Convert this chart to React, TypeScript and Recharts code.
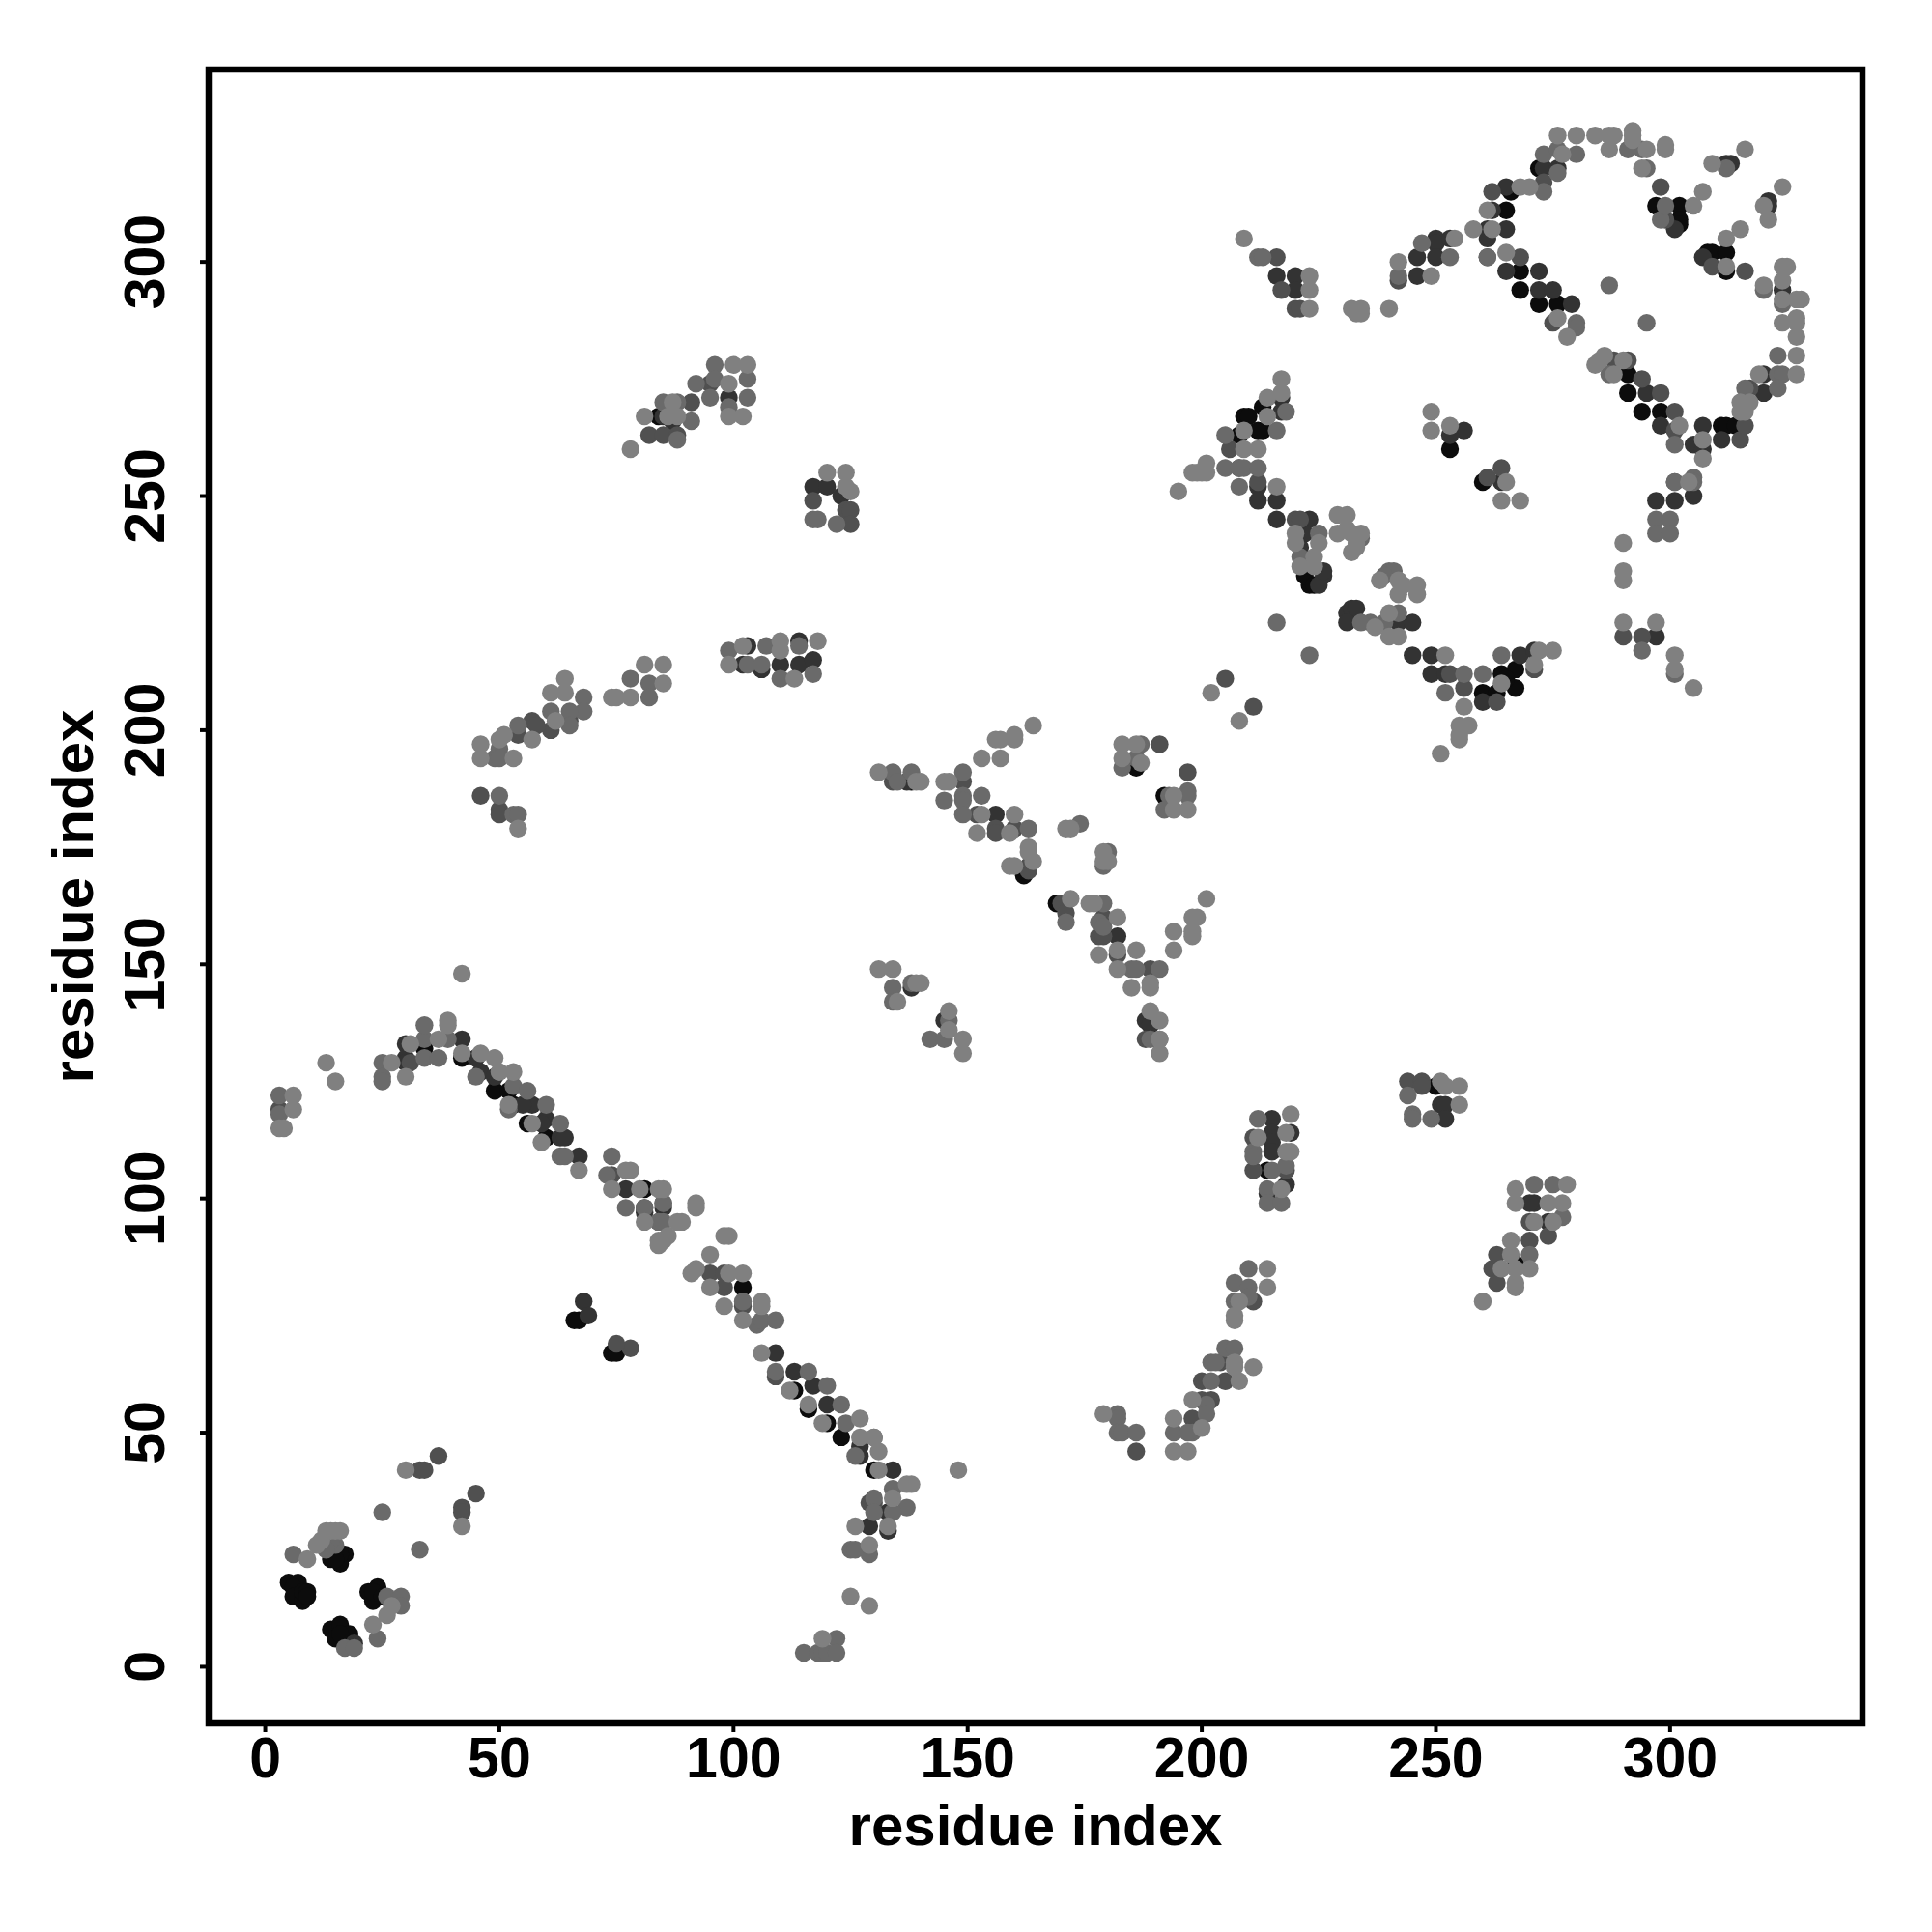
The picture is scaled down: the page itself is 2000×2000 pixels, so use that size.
import { ReferenceArea, Scatter, ScatterChart, XAxis, YAxis } from 'recharts';

type Pair = [number, number];

const tickValues = [0, 50, 100, 150, 200, 250, 300];
const axisDomain: [number, number] = [-12.08, 341.08];

// contact pairs, grouped by grey level
const blackContacts: Pair[] = [
  [17, 24], [16, 22], [14, 23], [16, 24], [15, 23], [5, 18], [7, 18], [6, 17], [6, 15], [8, 14], [8, 16], [9, 16], [9, 15],
  [22, 16], [24, 17], [23, 14], [23, 16], [25, 15], [14, 8], [16, 9], [15, 6], [18, 7], [16, 7],
  [34, 132], [42, 130], [49, 123], [53, 120], [52, 123], [56, 116], [60, 113], [81, 102], [102, 81], [113, 59], [120, 52],
  [123, 49], [130, 42], [116, 55], [67, 74], [66, 74], [74, 67], [75, 67], [84, 267], [214, 106], [250, 124], [267, 86],
  [192, 186], [186, 192], [138, 189], [162, 169], [169, 163], [209, 267], [210, 267], [213, 269], [213, 264], [212, 264],
  [208, 263], [223, 231], [222, 233], [253, 260], [260, 253], [260, 208], [263, 208], [264, 212], [267, 213], [267, 209],
  [265, 211], [265, 311], [266, 315], [272, 320], [268, 298], [268, 294], [272, 291], [276, 291], [297, 312], [302, 312],
  [302, 309], [302, 308], [308, 302], [309, 302], [312, 302], [312, 298], [291, 276], [291, 272], [294, 268], [298, 268],
  [311, 265], [312, 265], [314, 265], [224, 231],
];

const darkContacts: Pair[] = [
  [30, 133], [30, 130], [30, 129], [42, 134], [45, 130], [46, 127], [49, 126], [57, 120], [55, 120], [60, 117], [59, 116],
  [63, 113], [64, 113], [67, 109], [77, 102], [81, 97], [85, 98], [109, 67], [113, 63], [117, 60], [120, 56], [127, 47],
  [127, 45], [134, 42], [133, 33], [133, 29], [129, 30], [19, 5], [68, 78], [69, 75], [215, 117], [215, 114], [219, 114],
  [215, 112], [215, 110], [218, 103], [214, 101], [251, 120], [252, 120], [252, 117], [271, 99], [270, 99], [274, 95],
  [156, 182], [182, 156], [137, 189], [188, 138], [189, 137], [145, 138], [138, 145], [99, 271], [85, 267], [87, 266],
  [117, 252], [120, 252], [123, 250], [103, 218], [102, 214], [106, 213], [110, 214], [114, 219], [114, 214], [117, 215],
  [212, 252], [212, 249], [216, 249], [216, 245], [223, 245], [222, 242], [221, 239], [226, 233], [225, 231], [226, 234],
  [217, 268], [217, 271], [231, 225], [232, 226], [233, 226], [231, 223], [242, 223], [245, 223], [245, 216], [249, 216],
  [249, 212], [252, 212], [260, 206], [268, 216], [271, 217], [256, 264], [253, 263], [264, 253], [216, 297], [220, 297],
  [220, 294], [246, 301], [246, 297], [250, 305], [250, 304], [250, 301], [253, 305], [261, 307], [261, 305], [265, 307],
  [262, 311], [265, 316], [273, 320], [276, 320], [265, 298], [272, 298], [272, 294], [275, 294], [279, 291], [297, 249],
  [301, 249], [305, 250], [301, 307], [307, 301], [312, 321], [313, 321], [321, 313], [321, 312], [324, 294], [320, 276],
  [320, 272], [295, 272], [298, 265], [305, 261], [307, 265], [307, 260], [311, 262], [297, 220], [208, 256], [81, 98],
];

const darkMidContacts: Pair[] = [
  [37, 45], [33, 42], [34, 42], [45, 37], [42, 34], [42, 33], [3, 119], [31, 129], [74, 105], [95, 84], [98, 84], [98, 81],
  [102, 77], [85, 99], [84, 95], [109, 62], [129, 35], [130, 35], [78, 68], [75, 69], [82, 263], [85, 263], [88, 263],
  [91, 270], [95, 274], [117, 249], [124, 247], [125, 247], [125, 244], [211, 113], [211, 106], [218, 106], [244, 125],
  [247, 125], [247, 124], [263, 88], [262, 85], [263, 82], [270, 95], [270, 91], [274, 92], [211, 78], [204, 65], [200, 61],
  [205, 61], [200, 57], [202, 57], [198, 53], [186, 46], [134, 189], [149, 189], [152, 182], [156, 179], [156, 178], [160, 179],
  [163, 171], [163, 170], [170, 163], [171, 161], [179, 160], [178, 156], [179, 156], [182, 152], [189, 149], [188, 134],
  [191, 197], [197, 191], [46, 186], [50, 183], [50, 182], [61, 200], [65, 202], [57, 202], [58, 201], [54, 199],
  [206, 260], [212, 253], [220, 245], [221, 245], [216, 301], [217, 294], [220, 290], [221, 290], [242, 296], [261, 301],
  [268, 301], [273, 317], [262, 315], [275, 287], [261, 254], [264, 256], [263, 206], [256, 209], [253, 212], [271, 213],
  [298, 316], [299, 309], [309, 299], [316, 298], [317, 273], [288, 279], [291, 279], [294, 275], [298, 272], [301, 268],
  [301, 264], [315, 262], [301, 253], [294, 220], [290, 220], [316, 265], [205, 211], [211, 205],
];

const midContacts: Pair[] = [
  [25, 33], [33, 25], [6, 24], [15, 26], [14, 27], [13, 25], [26, 15], [29, 15], [29, 13], [17, 4], [19, 4], [24, 6],
  [3, 122], [25, 129], [25, 126], [25, 125], [34, 134], [34, 137], [34, 130], [37, 130], [39, 134], [45, 126], [53, 124],
  [56, 123], [52, 119], [60, 120], [63, 116], [63, 109], [64, 109], [3, 118], [74, 109], [73, 105], [77, 98], [81, 98],
  [85, 99], [84, 95], [85, 95], [102, 78], [105, 73], [106, 74], [109, 74], [109, 63], [116, 63], [120, 60], [123, 56],
  [124, 52], [126, 45], [130, 49], [134, 38], [137, 34], [134, 33], [130, 36], [130, 33], [129, 24], [125, 25], [126, 25],
  [115, 3], [118, 3], [119, 3], [120, 3], [122, 6], [122, 3], [212, 117], [211, 110], [211, 109], [215, 106], [218, 107],
  [214, 102], [214, 99], [217, 99], [244, 122], [245, 118], [245, 117], [249, 117], [271, 103], [275, 103], [277, 96],
  [270, 88], [210, 85], [207, 82], [210, 81], [207, 78], [210, 79], [205, 68], [207, 68], [202, 65], [203, 65], [202, 61],
  [201, 56], [201, 54], [198, 50], [194, 50], [197, 50], [182, 54], [182, 53], [182, 50], [183, 50], [186, 50], [134, 191],
  [135, 189], [138, 191], [145, 185], [149, 191], [149, 186], [149, 185], [149, 182], [153, 186], [163, 179], [174, 180],
  [180, 174], [179, 171], [187, 197], [183, 192], [186, 194], [193, 186], [197, 187], [197, 186], [192, 183], [171, 159],
  [179, 163], [178, 159], [179, 158], [185, 149], [186, 149], [191, 149], [189, 134], [134, 145], [138, 146], [134, 142],
  [146, 138], [142, 134], [145, 134], [96, 278], [96, 275], [92, 274], [95, 271], [91, 266], [85, 270], [88, 270], [88, 262],
  [103, 275], [103, 271], [99, 269], [122, 244], [117, 245], [118, 245], [99, 217], [103, 214], [107, 218], [106, 214],
  [114, 218], [110, 211], [117, 212], [78, 211], [82, 210], [82, 207], [68, 207], [68, 204], [61, 204], [65, 204], [65, 201],
  [54, 201], [50, 196], [49, 194], [50, 194], [50, 186], [53, 182], [54, 182], [205, 263], [205, 256], [208, 256], [209, 256],
  [212, 256], [208, 252], [216, 264], [218, 268], [225, 242], [221, 237], [234, 241], [240, 234], [241, 234], [239, 233],
  [242, 225], [236, 223], [234, 223], [239, 223], [256, 212], [260, 212], [252, 208], [264, 216], [212, 301], [213, 301],
  [242, 297], [247, 304], [253, 301], [273, 315], [273, 323], [276, 324], [280, 323], [261, 301], [280, 287], [280, 286],
  [276, 319], [287, 295], [295, 287], [291, 324], [294, 324], [295, 320], [312, 320], [298, 309], [299, 312], [323, 280],
  [323, 276], [324, 276], [323, 273], [316, 273], [320, 294], [324, 291], [287, 276], [301, 261], [301, 253], [305, 254],
  [294, 217], [301, 212], [297, 245], [300, 245], [297, 242], [300, 242], [305, 253], [216, 223], [223, 216],
];

const lightContacts: Pair[] = [
  [30, 42], [42, 30], [9, 23], [11, 26], [12, 27], [13, 29], [14, 29], [15, 29], [16, 29], [27, 13], [26, 11], [23, 9],
  [42, 148], [13, 129], [15, 125], [6, 122], [6, 119], [3, 115], [4, 115], [27, 129], [30, 126], [31, 133], [37, 134],
  [39, 138], [39, 137], [42, 131], [46, 131], [49, 130], [50, 127], [53, 127], [52, 120], [57, 116], [59, 112], [67, 106],
  [74, 102], [77, 106], [78, 106], [80, 102], [84, 102], [85, 102], [81, 95], [88, 95], [89, 95], [84, 91], [85, 91], [84, 90],
  [86, 92], [92, 99], [92, 98], [98, 92], [99, 92], [91, 84], [92, 85], [95, 88], [95, 81], [99, 84], [102, 84], [98, 77],
  [106, 78], [106, 77], [102, 74], [106, 67], [112, 59], [116, 56], [119, 52], [127, 53], [127, 49], [130, 49], [131, 46],
  [131, 42], [138, 39], [137, 39], [134, 36], [133, 30], [126, 30], [129, 26], [125, 15], [129, 13], [119, 6], [148, 42],
  [191, 131], [191, 134], [219, 118], [212, 113], [218, 114], [219, 110], [218, 110], [217, 102], [251, 125], [252, 124],
  [255, 124], [255, 120], [267, 102], [267, 99], [274, 99], [277, 99], [278, 103], [271, 95], [275, 95], [266, 91], [266, 88],
  [270, 85], [267, 85], [264, 85], [267, 82], [267, 81], [260, 78], [214, 85], [214, 81], [208, 78], [207, 74], [207, 75],
  [207, 64], [211, 64], [207, 65], [208, 61], [198, 57], [200, 51], [194, 53], [194, 46], [197, 46], [179, 54], [164, 201],
  [160, 199], [160, 198], [156, 198], [157, 198], [153, 194], [157, 194], [131, 191], [139, 189], [140, 189], [145, 189],
  [146, 189], [153, 182], [160, 182], [152, 178], [159, 178], [163, 175], [163, 174], [159, 171], [160, 171], [164, 172],
  [171, 179], [172, 179], [179, 174], [179, 172], [180, 172], [183, 197], [186, 197], [183, 194], [187, 193], [194, 186],
  [194, 183], [197, 183], [172, 164], [176, 163], [177, 163], [182, 160], [178, 152], [182, 153], [186, 153], [182, 149],
  [185, 145], [189, 146], [189, 145], [194, 153], [194, 157], [198, 157], [198, 156], [198, 160], [199, 160], [201, 164],
  [189, 140], [191, 138], [191, 134], [131, 149], [134, 149], [139, 146], [140, 146], [135, 142], [146, 140], [146, 136],
  [149, 134], [149, 131], [78, 260], [81, 267], [86, 267], [87, 270], [88, 267], [100, 278], [103, 278], [99, 274], [99, 267],
  [102, 267], [120, 255], [124, 255], [124, 252], [125, 251], [102, 218], [99, 214], [110, 219], [110, 217], [113, 211],
  [118, 219], [81, 214], [85, 214], [85, 210], [78, 207], [74, 207], [75, 207], [64, 211], [61, 208], [64, 208], [62, 202],
  [57, 198], [51, 199], [50, 198], [46, 197], [46, 194], [53, 194], [54, 179], [217, 275], [217, 272], [214, 271], [214, 267],
  [209, 264], [209, 260], [212, 260], [201, 257], [201, 255], [198, 255], [199, 255], [200, 255], [216, 252], [195, 251],
  [220, 242], [220, 240], [225, 240], [224, 237], [221, 235], [224, 235], [229, 246], [231, 246], [229, 242], [231, 243],
  [232, 242], [234, 242], [233, 240], [232, 238], [233, 239], [238, 232], [242, 232], [243, 231], [246, 231], [246, 229],
  [242, 229], [237, 222], [240, 225], [240, 220], [242, 220], [252, 216], [256, 205], [264, 210], [272, 217], [275, 217],
  [271, 214], [257, 201], [255, 201], [255, 199], [255, 198], [251, 195], [249, 268], [249, 264], [253, 265], [265, 253],
  [264, 249], [268, 249], [202, 208], [208, 202], [209, 305], [223, 297], [223, 294], [223, 290], [232, 290], [234, 290],
  [234, 289], [233, 289], [240, 290], [242, 300], [249, 297], [254, 305], [258, 307], [262, 307], [261, 311], [268, 316],
  [270, 316], [277, 323], [276, 327], [280, 327], [284, 327], [287, 327], [288, 327], [287, 324], [265, 302], [276, 288],
  [278, 284], [292, 328], [292, 327], [292, 326], [295, 324], [299, 325], [299, 324], [294, 320], [316, 324], [309, 321],
  [307, 315], [305, 312], [324, 316], [320, 312], [321, 309], [315, 307], [312, 305], [312, 299], [324, 299], [325, 299],
  [320, 295], [324, 296], [324, 292], [327, 292], [328, 292], [324, 287], [327, 288], [327, 287], [327, 284], [327, 280],
  [327, 276], [319, 276], [315, 270], [317, 270], [315, 268], [316, 268], [284, 278], [285, 279], [286, 280], [288, 276],
  [290, 279], [302, 265], [307, 262], [307, 258], [304, 253], [290, 240], [290, 234], [290, 232], [290, 223], [297, 223],
  [301, 216], [305, 209], [301, 213],
];

const greyLayers = [
  { name: 'black', fill: '#0c0c0c', pairs: blackContacts },
  { name: 'dark', fill: '#333333', pairs: darkContacts },
  { name: 'darkMid', fill: '#505050', pairs: darkMidContacts },
  { name: 'mid', fill: '#6a6a6a', pairs: midContacts },
  { name: 'light', fill: '#808080', pairs: lightContacts },
];

const fontFamily = '"Liberation Sans", Arial, sans-serif';

function LeftTick({ x, y, payload }: any) {
  return (
    <text
      x={0}
      y={0}
      transform={`translate(${x - 35},${y}) rotate(-90)`}
      textAnchor="middle"
      fontFamily={fontFamily}
      fontWeight="bold"
      fontSize={59}
      fill="#000"
    >
      {payload.value}
    </text>
  );
}

const ContactDot = ({ cx, cy, fill }: any) => <circle cx={cx} cy={cy} r={9.2} fill={fill} />;

export default function App() {
  return (
    <div style={{ position: 'absolute', left: 0, top: 0, width: 2000, height: 2000, background: '#fff' }}>
      <ScatterChart width={2000} height={2000} margin={{ top: 72, right: 72, bottom: 0, left: 0 }}>
        <XAxis
          type="number"
          dataKey="x"
          domain={axisDomain}
          ticks={tickValues}
          interval={0}
          allowDataOverflow
          axisLine={false}
          height={216}
          tickSize={9}
          tickLine={{ stroke: '#000', strokeWidth: 4 }}
          tickMargin={5}
          tick={{ fill: '#000', fontFamily, fontWeight: 'bold', fontSize: 59 }}
          label={{
            value: 'residue index',
            position: 'insideBottom',
            offset: 90,
            fill: '#000',
            fontFamily,
            fontWeight: 'bold',
            fontSize: 60,
          }}
        />
        <YAxis
          type="number"
          dataKey="y"
          domain={axisDomain}
          ticks={tickValues}
          interval={0}
          allowDataOverflow
          axisLine={false}
          width={216}
          tickSize={9}
          tickLine={{ stroke: '#000', strokeWidth: 4 }}
          tick={<LeftTick />}
          label={{
            value: 'residue index',
            angle: -90,
            position: 'insideLeft',
            offset: 75,
            fill: '#000',
            fontFamily,
            fontWeight: 'bold',
            fontSize: 60,
            style: { textAnchor: 'middle' },
          }}
        />
        {greyLayers.map((layer) => (
          <Scatter
            key={layer.name}
            name={layer.name}
            data={layer.pairs.map(([x, y]) => ({ x, y }))}
            fill={layer.fill}
            shape={ContactDot}
            isAnimationActive={false}
          />
        ))}
        <ReferenceArea
          x1={axisDomain[0]}
          x2={axisDomain[1]}
          y1={axisDomain[0]}
          y2={axisDomain[1]}
          fill="none"
          stroke="#000"
          strokeWidth={6.5}
          ifOverflow="visible"
        />
      </ScatterChart>
    </div>
  );
}
